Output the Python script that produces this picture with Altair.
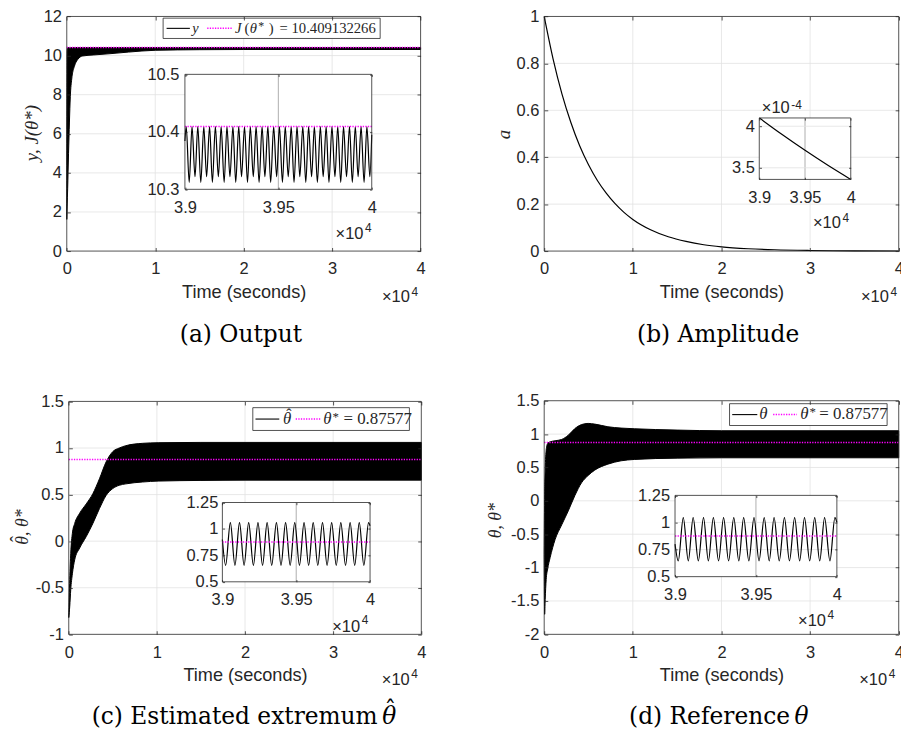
import altair as alt
import pandas as pd

# ---------------- values ----------------
# (a) output y : lower / upper edge of the dense oscillation band
t_out = [0, 40, 100, 200, 300, 400, 560, 860, 1240, 1800, 3000, 5000, 7000, 10000, 15000, 20000, 40000]
y_out_low = [1.62, 2.3, 3.2, 5.0, 6.6, 7.9, 8.8, 9.45, 9.8, 9.98, 10.03, 10.1, 10.18, 10.27, 10.3, 10.31, 10.31]
y_out_high = [1.62, 10.25, 10.409, 10.409, 10.409, 10.409, 10.409, 10.409, 10.409, 10.409,
              10.409, 10.409, 10.409, 10.409, 10.409, 10.409, 10.409]
J_star = [10.409132266]

# (a) zoom 3.9e4 .. 4e4 : peaks and troughs of y
t_out_zoom = [39000, 39007, 39023, 39038, 39054, 39069, 39085, 39101, 39116, 39132, 39147,
              39163, 39179, 39194, 39210, 39225, 39241, 39257, 39272, 39288, 39303, 39319,
              39335, 39350, 39366, 39381, 39397, 39413, 39428, 39444, 39459, 39475, 39491,
              39506, 39522, 39537, 39553, 39569, 39584, 39600, 39615, 39631, 39647, 39662,
              39678, 39693, 39709, 39725, 39740, 39756, 39771, 39787, 39803, 39818, 39834,
              39849, 39865, 39881, 39896, 39912, 39927, 39943, 39959, 39974, 39990, 40000]
y_out_zoom = [10.384,
              10.409, 10.312, 10.409, 10.322, 10.409, 10.312, 10.409, 10.322,
              10.409, 10.312, 10.409, 10.322, 10.409, 10.312, 10.409, 10.322,
              10.409, 10.312, 10.409, 10.322, 10.409, 10.312, 10.409, 10.322,
              10.409, 10.312, 10.409, 10.322, 10.409, 10.312, 10.409, 10.322,
              10.409, 10.312, 10.409, 10.322, 10.409, 10.312, 10.409, 10.322,
              10.409, 10.312, 10.409, 10.322, 10.409, 10.312, 10.409, 10.322,
              10.409, 10.312, 10.409, 10.322, 10.409, 10.312, 10.409, 10.322,
              10.409, 10.312, 10.409, 10.322, 10.409, 10.312, 10.409, 10.322,
              10.395]

# (b) amplitude a
t_amp = [0, 1000, 2000, 3000, 4000, 5000, 6000, 7000, 8000, 9000, 10000, 12000, 14000,
         16000, 18000, 20000, 23000, 26000, 30000, 35000, 40000]
amp = [1.0, 0.819, 0.670, 0.549, 0.449, 0.368, 0.301, 0.247, 0.202, 0.165, 0.135, 0.091,
       0.061, 0.041, 0.027, 0.018, 0.010, 0.0055, 0.0025, 0.0009, 0.00034]
t_amp_zoom = [39000, 39250, 39500, 39750, 40000]
amp_zoom = [4.10e-4, 3.90e-4, 3.71e-4, 3.53e-4, 3.36e-4]

# (c) estimated extremum theta-hat : band edges
t_est = [0, 112, 225, 412, 674, 1236, 1985, 2735, 3484, 4234, 4983, 5732, 6482, 8355,
         10228, 15000, 20000, 40000]
est_high = [-0.82, -0.41, -0.13, 0.085, 0.19, 0.30, 0.40, 0.51, 0.67, 0.85, 0.96, 1.0,
            1.025, 1.05, 1.057, 1.06, 1.06, 1.06]
est_low = [-0.82, -0.70, -0.52, -0.35, -0.20, -0.074, 0.05, 0.19, 0.35, 0.49, 0.564, 0.60,
           0.615, 0.635, 0.645, 0.652, 0.655, 0.655]
theta_star = [0.87577]
t_est_zoom = [39000, 39022, 39054, 39085, 39116, 39147, 39178, 39210, 39241, 39272, 39303,
              39334, 39366, 39397, 39428, 39459, 39490, 39522, 39553, 39584, 39615, 39646,
              39678, 39709, 39740, 39771, 39802, 39834, 39865, 39896, 39927, 39958, 39990, 40000]
est_zoom = [0.90,
            0.655, 1.06, 0.655, 1.06, 0.655, 1.06, 0.655, 1.06,
            0.655, 1.06, 0.655, 1.06, 0.655, 1.06, 0.655, 1.06,
            0.655, 1.06, 0.655, 1.06, 0.655, 1.06, 0.655, 1.06,
            0.655, 1.06, 0.655, 1.06, 0.655, 1.06, 0.655, 1.06,
            1.03]

# (d) reference theta : band edges
t_ref = [0, 50, 112, 223, 391, 670, 1229, 1973, 2718, 3463, 4208, 4953, 5697, 7187, 8676,
         10165, 15000, 20000, 40000]
ref_high = [-0.8, 0.1, 0.46, 0.76, 0.86, 0.884, 0.90, 0.92, 0.983, 1.083, 1.142, 1.16, 1.15,
            1.11, 1.09, 1.08, 1.06, 1.05, 1.05]
ref_low = [-0.8, -1.7, -1.48, -1.18, -1.02, -0.85, -0.58, -0.36, -0.15, 0.08, 0.27, 0.38,
           0.46, 0.55, 0.60, 0.62, 0.64, 0.645, 0.645]
t_ref_zoom = [39000, 39020, 39051, 39082, 39112, 39144, 39176, 39206, 39237, 39269, 39300,
              39331, 39363, 39394, 39424, 39456, 39488, 39519, 39551, 39582, 39612, 39644,
              39676, 39707, 39739, 39770, 39800, 39832, 39863, 39894, 39924, 39957, 39988, 40000]
ref_zoom = [0.80,
            0.645, 1.045, 0.645, 1.045, 0.645, 1.045, 0.645, 1.045,
            0.645, 1.045, 0.645, 1.045, 0.645, 1.045, 0.645, 1.045,
            0.645, 1.045, 0.645, 1.045, 0.645, 1.045, 0.645, 1.045,
            0.645, 1.045, 0.645, 1.045, 0.645, 1.045, 0.645, 1.045,
            1.00]

# tick values
time_ticks = [0, 10000, 20000, 30000, 40000]
zoom_ticks = [39000, 39500, 40000]
ticks_out = [0, 2, 4, 6, 8, 10, 12]
ticks_out_zoom = [10.3, 10.4, 10.5]
ticks_amp = [0, 0.2, 0.4, 0.6, 0.8, 1]
ticks_amp_zoom = [3.5e-4, 4e-4]
ticks_est = [-1, -0.5, 0, 0.5, 1, 1.5]
ticks_ref = [-2, -1.5, -1, -0.5, 0, 0.5, 1, 1.5]
ticks_theta_zoom = [0.5, 0.75, 1, 1.25]

# ---------------- layout / style ----------------
W, H = 901, 724
PAGE = 8
AX = '#262626'
GRID = '#e2e2e2'
GRID_IN = '#9a9a9a'
MAG = '#ff00ff'
SANS = 'Liberation Sans'
SERIF = 'Liberation Serif'
CAP = 'DejaVu Serif'
CAPSZ = 23.5
LBL = 16.6
HAT = '\u02c6'
ONE = pd.DataFrame({'k': [0]})


def v(p):
    return p - PAGE


def panel(box, xdom, ydom, xticks, yticks, xgrid, ygrid, content, ylab_expr, tick_len,
          xpad, ypad, xtitle=None, xgrid_color=GRID, ygrid_color=GRID):
    xl, xr, yt, yb = (v(p) for p in box)
    xs = alt.Scale(domain=xdom, range=[xl, xr], nice=False, zero=False)
    ys = alt.Scale(domain=ydom, range=[yb, yt], nice=False, zero=False)
    frame = pd.DataFrame({'x0': [xdom[0]], 'x1': [xdom[1]], 'y0': [ydom[0]], 'y1': [ydom[1]]})
    tk = dict(labels=False, domain=False, grid=False, ticks=True, tickSize=tick_len,
              tickColor=AX, tickWidth=0.8, title=None, zindex=1)
    bg = alt.Chart(frame).mark_rect(fill='white', strokeWidth=0).encode(
        x=alt.X('x0:Q', scale=xs, axis=alt.Axis(orient='top', offset=-yb, values=xticks, **tk)),
        x2='x1:Q',
        y=alt.Y('y0:Q', scale=ys, axis=alt.Axis(orient='right', offset=xl - W, values=yticks, **tk)),
        y2='y1:Q')
    gx = alt.Chart(pd.DataFrame({'g': xgrid, 'y0': ydom[0], 'y1': ydom[1]})).mark_rule(
        color=xgrid_color, strokeWidth=0.8).encode(
        x=alt.X('g:Q', scale=xs, axis=None),
        y=alt.Y('y0:Q', scale=ys, axis=None), y2='y1:Q')
    gy = alt.Chart(pd.DataFrame({'g': ygrid, 'x0': xdom[0], 'x1': xdom[1]})).mark_rule(
        color=ygrid_color, strokeWidth=0.8).encode(
        y=alt.Y('g:Q', scale=ys, axis=None),
        x=alt.X('x0:Q', scale=xs, axis=None), x2='x1:Q')
    if xtitle:
        xt = dict(title=xtitle, titleFont=SANS, titleFontSize=18.3, titleFontWeight='normal',
                  titleColor=AX, titleX=(xl + xr) / 2, titleY=46.5, titleAlign='center',
                  titleBaseline='alphabetic')
    else:
        xt = dict(title=None)
    xaxis = alt.Axis(orient='bottom', offset=yb - H, values=xticks,
                     labelExpr='datum.value / 10000', ticks=False, domain=False, grid=False,
                     labelFont=SANS, labelFontSize=LBL, labelColor=AX, labelPadding=xpad,
                     labelFlush=False, labelOverlap=False, zindex=1, **xt)
    yaxis = alt.Axis(orient='left', offset=-xl, values=yticks, labelExpr=ylab_expr,
                     ticks=False, domain=False, grid=False, labelFont=SANS, labelFontSize=LBL,
                     labelColor=AX, labelPadding=ypad, labelFlush=False, labelOverlap=False,
                     zindex=1, title=None)
    outline = alt.Chart(frame).mark_rect(fill='white', fillOpacity=0, stroke=AX,
                                         strokeWidth=0.8).encode(
        x=alt.X('x0:Q', scale=xs, axis=alt.Axis(orient='bottom', offset=yt - H, values=xticks, **tk)),
        x2='x1:Q',
        y=alt.Y('y0:Q', scale=ys, axis=alt.Axis(orient='left', offset=-xr, values=yticks, **tk)),
        y2='y1:Q')
    return alt.layer(bg, gx, gy, *content(xs, ys, xaxis, yaxis), outline).resolve_axis(
        x='independent', y='independent')


def band(t, lo, hi):
    df = pd.DataFrame({'t': t, 'lo': lo, 'hi': hi})

    def make(xs, ys, xaxis, yaxis):
        return [alt.Chart(df).mark_area(color='black', interpolate='monotone', stroke='black',
                                        strokeWidth=1).encode(
            x=alt.X('t:Q', scale=xs, axis=xaxis),
            y=alt.Y('lo:Q', scale=ys, axis=yaxis), y2='hi:Q')]
    return make


def curve(t, val):
    df = pd.DataFrame({'t': t, 'val': val})

    def make(xs, ys, xaxis, yaxis):
        return [alt.Chart(df).mark_line(color='black', interpolate='monotone',
                                        strokeWidth=1.2).encode(
            x=alt.X('t:Q', scale=xs, axis=xaxis),
            y=alt.Y('val:Q', scale=ys, axis=yaxis))]
    return make


def with_ref(make_main, value, xdom):
    def make(xs, ys, xaxis, yaxis):
        ref = alt.Chart(pd.DataFrame({'val': value, 'x0': xdom[0], 'x1': xdom[1]})).mark_rule(
            color=MAG, strokeDash=[1.3, 1.3], strokeWidth=1.5).encode(
            x=alt.X('x0:Q', scale=xs, axis=None), x2='x1:Q',
            y=alt.Y('val:Q', scale=ys, axis=None))
        return make_main(xs, ys, xaxis, yaxis) + [ref]
    return make


def label(s, x, y, size, font=SANS, align='left', style='normal', color=AX, angle=0,
          baseline='alphabetic'):
    return alt.Chart(ONE).mark_text(text=s, font=font, fontSize=size, align=align,
                                    baseline=baseline, fontStyle=style, color=color,
                                    angle=angle).encode(
        x=alt.value(v(x)), y=alt.value(v(y)))


def times10(x_right, base, exp, exp_base):
    return [label('×10', x_right, base, LBL, align='right'),
            label(exp, x_right + 1.6, exp_base, 12)]


def legend_box(x0, x1, y0, y1):
    return alt.Chart(ONE).mark_rect(fill='white', stroke=AX, strokeWidth=0.8).encode(
        x=alt.value(v(x0)), x2=alt.value(v(x1)), y=alt.value(v(y0)), y2=alt.value(v(y1)))


def sample(x0, x1, y, color, dotted):
    kw = dict(strokeDash=[1.3, 1.3], strokeWidth=1.5) if dotted else dict(strokeWidth=1.1)
    return alt.Chart(ONE).mark_rule(color=color, **kw).encode(
        x=alt.value(v(x0)), x2=alt.value(v(x1)), y=alt.value(v(y)))


TD = [0, 40000]
ZD = [39000, 40000]
NUM = "datum.value + ''"

# ---------------- panels ----------------
pa = panel((67.3, 424.3, 13.3, 250), TD, [0, 12], time_ticks, ticks_out,
           [10000, 20000, 30000], [2, 4, 6, 8, 10],
           with_ref(band(t_out, y_out_low, y_out_high), J_star, TD), NUM, 3.6, 9.5, 5.3,
           xtitle='Time (seconds)')
ia = panel((186.5, 375, 71.7, 187.7), ZD, [10.3, 10.5], zoom_ticks, ticks_out_zoom,
           [39500], [10.4], with_ref(curve(t_out_zoom, y_out_zoom), J_star, ZD), NUM, 2.2,
           10.5, 6, xgrid_color=GRID_IN)

pb = panel((549, 906.7, 13.3, 250), TD, [0, 1], time_ticks, ticks_amp,
           [10000, 20000, 30000], [0.2, 0.4, 0.6, 0.8],
           curve(t_amp, amp), NUM, 3.6, 9.5, 5.3, xtitle='Time (seconds)')
ib = panel((766, 858.3, 115.7, 177.7), ZD, [3.36e-4, 4.10e-4], zoom_ticks, ticks_amp_zoom,
           [39500], ticks_amp_zoom, curve(t_amp_zoom, amp_zoom),
           "round(datum.value * 100000) / 10 + ''", 2.2, 10, 5, xgrid_color=GRID_IN)

pc = panel((69.3, 425, 401.7, 636.7), TD, [-1, 1.5], time_ticks, ticks_est,
           [10000, 20000, 30000], [-0.5, 0, 0.5, 1],
           with_ref(band(t_est, est_low, est_high), theta_star, TD), NUM, 3.6, 10, 5.3,
           xtitle='Time (seconds)')
ic = panel((224.3, 373.3, 503.7, 583.7), ZD, [0.5, 1.25], zoom_ticks, ticks_theta_zoom,
           [39500], [0.75, 1], with_ref(curve(t_est_zoom, est_zoom), theta_star, ZD), NUM, 2.2,
           10, 4.5, xgrid_color=GRID_IN)

pd_ = panel((549, 906.7, 401, 636.7), TD, [-2, 1.5], time_ticks, ticks_ref,
            [10000, 20000, 30000], [-1.5, -1, -0.5, 0, 0.5, 1],
            with_ref(band(t_ref, ref_low, ref_high), theta_star, TD), NUM, 3.6, 10, 5.3,
            xtitle='Time (seconds)')
id_ = panel((681, 844.3, 496.5, 578.5), ZD, [0.5, 1.25], zoom_ticks, ticks_theta_zoom,
            [39500], [0.75, 1], with_ref(curve(t_ref_zoom, ref_zoom), theta_star, ZD), NUM, 2.2,
            10, 5.5, xgrid_color=GRID_IN)

# ---------------- y-axis titles (rotated) ----------------
ytitles = [
    label('y, J(θ*)', 32.5, 131, 19, font=SERIF, style='italic', align='center',
          angle=270, baseline='middle'),
    label('a', 508.3, 132.5, 19, font=SERIF, style='italic', align='center',
          angle=270, baseline='middle'),
    label('θ, θ*', 23, 528.5, 18, font=SERIF, style='italic', align='center',
          angle=270, baseline='middle'),
    label(HAT, 18.2, 540.5, 18, font=SERIF, align='center', angle=270, baseline='middle'),
    label('θ, θ*', 500.5, 522, 18, font=SERIF, style='italic', align='center',
          angle=270, baseline='middle'),
]

# ---------------- legends ----------------
legends = [
    legend_box(164.5, 383.5, 15, 35.5),
    sample(168, 191.5, 25.3, 'black', False),
    label('y', 193.8, 29.5, 14.5, font=SERIF, style='italic'),
    sample(209, 234, 25.3, MAG, True),
    label('J', 237, 29.5, 14.8, font=SERIF, style='italic'),
    label('(', 246.5, 29.5, 14.8, font=SERIF),
    label('θ', 252, 29.5, 14.8, font=SERIF, style='italic'),
    label('*', 260.5, 27, 12, font=SERIF),
    label(')', 271, 29.5, 14.8, font=SERIF),
    label('= 10.409132266', 282, 29.5, 14.8, font=SERIF),

    legend_box(255, 413, 408, 431),
    sample(257.7, 281.7, 419.5, 'black', False),
    label('θ', 285.5, 424, 17, font=SERIF, style='italic'),
    label(HAT, 291.3, 420, 16, font=SERIF, align='center'),
    sample(298.3, 323.3, 419.5, MAG, True),
    label('θ', 326, 424, 17, font=SERIF, style='italic'),
    label('*', 335.5, 421, 13, font=SERIF),
    label('= 0.87577', 346.5, 424, 17, font=SERIF),

    legend_box(736, 895, 404, 426),
    sample(738.7, 764, 415, 'black', False),
    label('θ', 766, 419.5, 17, font=SERIF, style='italic'),
    sample(780, 804, 415, MAG, True),
    label('θ', 807.3, 419.5, 17, font=SERIF, style='italic'),
    label('*', 816.8, 416.5, 13, font=SERIF),
    label('= 0.87577', 826.5, 419.5, 17, font=SERIF),
]

# ---------------- exponent notes and captions ----------------
notes = (times10(413.5, 301, '4', 295) + times10(366.7, 237.7, '4', 230.7)
         + times10(896.7, 301, '4', 295) + times10(848.3, 226.7, '4', 221)
         + times10(796.7, 111, '-4', 106.7)
         + times10(413.3, 687.7, '4', 681) + times10(363.3, 634.3, '4', 626.7)
         + times10(895, 687.7, '4', 680.7) + times10(833.3, 628.3, '4', 621))

captions = [
    label('(a)\u00a0Output', 243, 342, CAPSZ, font=CAP, align='center', color='black'),
    label('(b)\u00a0Amplitude', 724.5, 342, CAPSZ, font=CAP, align='center', color='black'),
    label('(c)\u00a0Estimated extremum', 381, 727, CAPSZ, font=CAP, align='right', color='black'),
    label('θ', 385.5, 727, CAPSZ, font=CAP, style='italic', color='black'),
    label(HAT, 393.8, 721.5, CAPSZ, font=CAP, align='center', color='black'),
    label('(d)\u00a0Reference', 797, 727, CAPSZ, font=CAP, align='right', color='black'),
    label('θ', 801.5, 727, CAPSZ, font=CAP, style='italic', color='black'),
]

chart = alt.layer(pa, ia, pb, ib, pc, ic, pd_, id_, *ytitles, *legends, *notes,
                  *captions).resolve_scale(
    x='independent', y='independent').resolve_axis(x='independent', y='independent').properties(
    width=W, height=H, padding=0, autosize=alt.AutoSizeParams(type='none'),
    background='white').configure_view(strokeWidth=0)

chart.save("out.html", embed_options={"renderer": "svg", "actions": False})
